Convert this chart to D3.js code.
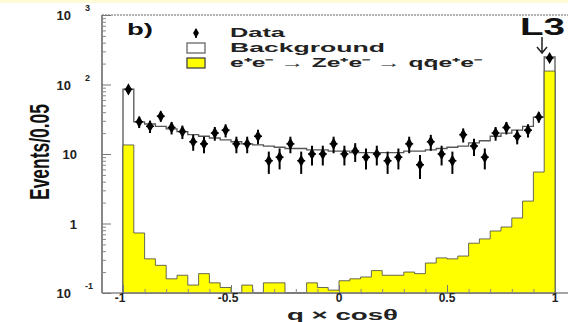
<!DOCTYPE html>
<html>
<head>
<meta charset="utf-8">
<script src="https://d3js.org/d3.v7.min.js"></script>
<style>
  body { margin: 0; background: #fff; }
  svg { display: block; font-family: "Liberation Sans", Arial, sans-serif; font-weight: bold; }
</style>
</head>
<body>
<script>
// lower edge of each 0.05 wide bin in q x cos(theta)
const binLow = d3.range(40).map(i => -1 + i * 0.05);

// open histogram (expectation), events per bin
const totalMC = [86, 29, 27, 25, 23, 21, 19, 18, 17, 16,
  15, 14, 13.5, 13, 12.5, 12, 12, 11.5, 11.5, 11,
  11, 10.5, 10.5, 10.5, 10.5, 10.5, 11, 11, 11.5, 12,
  12.5, 13, 14.5, 15.5, 18, 20, 22, 25, 34, 249];

// yellow histogram, e+e- -> Ze+e- -> qq e+e-
const signalMC = [13.5, 0.73, 0.31, 0.25, 0.16, 0.18, 0.13, 0.19, 0.14, 0.12,
  0, 0.13, 0, 0.14, 0.14, 0, 0, 0.14, 0.12, 0.11,
  0.15, 0.16, 0.17, 0.21, 0.18, 0.18, 0.2, 0.19, 0.27, 0.32,
  0.31, 0.34, 0.52, 0.6, 0.78, 0.89, 1.2, 2.1, 5.5, 156];

// data
const dataEvents = [85, 29, 25, 35, 24, 21, 15, 14, 20, 22,
  14, 14, 18, 8, 9, 14, 8, 10, 10, 14,
  10, 11, 9, 10, 8, 9, 14, 7, 15, 10,
  8, 19, 13, 9, 20, 24, 18, 22, 34, 240];

const xTicks = [-1, -0.5, 0, 0.5, 1];
const xTickText = ["-1", "-0.5", "0", "0.5", "1"];
const yMajor = [0.1, 1, 10, 100, 1000];
const yBase = ["10", "1", "10", "10", "10"];
const yExp = ["-1", "", "", "2", "3"];

const W = 568, H = 322;
const svg = d3.select("body").append("svg")
  .attr("width", W).attr("height", H);

// faint yellow strip at the very top
svg.append("rect").attr("x", 0).attr("y", 0).attr("width", W).attr("height", 3)
  .attr("fill", "#fffbd8");

let x = d3.scaleLinear().domain([-1, 1]).range([123, 555]);
let y = d3.scaleLog().domain([0.1, 1000]).range([293, 15]).clamp(true);
let frameLeft = 102, frameTop = 15, frameBottom = 293;

function steps(vals) {
  let pts = binLow.map((b, i) => [b, vals[i]]);
  pts.push([1, vals[vals.length - 1]]);
  return pts;
}

let area = d3.area()
  .curve(d3.curveStepAfter)
  .x(d => x(d[0]))
  .y0(y(0.1))
  .y1(d => d[1] > 0 ? y(d[1]) : y(0.1));

// open histogram
svg.append("path")
  .attr("d", area(steps(totalMC)))
  .attr("fill", "#fff")
  .attr("stroke", "#555")
  .attr("stroke-width", 1.3);

// yellow histogram
svg.append("path")
  .attr("d", area(steps(signalMC)))
  .attr("fill", "#ffff00")
  .attr("stroke", "#444")
  .attr("stroke-width", 0.8);

// frame: dotted top, grey left and bottom
svg.append("line").attr("x1", frameLeft).attr("x2", W).attr("y1", frameTop).attr("y2", frameTop)
  .attr("stroke", "#999").attr("stroke-width", 1.5).attr("stroke-dasharray", "2,1");
svg.append("line").attr("x1", frameLeft).attr("x2", frameLeft).attr("y1", frameTop).attr("y2", frameBottom)
  .attr("stroke", "#888").attr("stroke-width", 2);
svg.append("line").attr("x1", frameLeft).attr("x2", W).attr("y1", frameBottom).attr("y2", frameBottom)
  .attr("stroke", "#888").attr("stroke-width", 1.5);

// y ticks, pointing inwards
let yMinor = [];
for (let d = 0.1; d < 1000; d *= 10) {
  for (let k = 2; k <= 9; k++) yMinor.push(d * k);
}
svg.append("g").attr("transform", `translate(${frameLeft},0)`)
  .call(d3.axisRight(y).tickValues(yMinor).tickSize(4).tickFormat(""))
  .call(g => g.select(".domain").remove())
  .selectAll("line").attr("stroke", "#888");
svg.append("g").attr("transform", `translate(${frameLeft},0)`)
  .call(d3.axisRight(y).tickValues(yMajor).tickSize(9).tickFormat(""))
  .call(g => g.select(".domain").remove())
  .selectAll("line").attr("stroke", "#777");

// x ticks
svg.append("g").attr("transform", `translate(0,${frameBottom})`)
  .call(d3.axisTop(x).tickValues(d3.range(-10, 11).map(i => i / 10)).tickSize(4).tickFormat(""))
  .call(g => g.select(".domain").remove())
  .selectAll("line").attr("stroke", "#888");
svg.append("g").attr("transform", `translate(0,${frameBottom})`)
  .call(d3.axisTop(x).tickValues(xTicks).tickSize(8).tickFormat(""))
  .call(g => g.select(".domain").remove())
  .selectAll("line").attr("stroke", "#777");

// x tick labels
svg.append("g").selectAll("text")
  .data(xTicks)
  .join("text")
  .attr("x", d => x(d) + (d < 0 ? -3 : 0))
  .attr("y", 302)
  .attr("text-anchor", "middle")
  .attr("font-size", 12)
  .attr("fill", "#222")
  .text((d, i) => xTickText[i]);

// y tick labels, 10 with exponent
let yl = svg.append("g").selectAll("g")
  .data(yMajor)
  .join("g");
yl.append("text")
  .attr("x", (d, i) => yExp[i] ? 71 : 77)
  .attr("y", d => y(d) + 5)
  .attr("text-anchor", "end")
  .attr("font-size", 13)
  .attr("fill", "#222")
  .text((d, i) => yBase[i]);
yl.append("text")
  .attr("x", 85)
  .attr("y", d => y(d) - 4)
  .attr("font-size", 9)
  .attr("fill", "#222")
  .text((d, i) => yExp[i]);

// data points with error bars
let pts = svg.append("g").selectAll("g")
  .data(dataEvents)
  .join("g")
  .attr("transform", (d, i) => `translate(${x(binLow[i] + 0.025)},0)`);
pts.append("line")
  .attr("y1", d => y(d - Math.sqrt(d)))
  .attr("y2", d => y(d + Math.sqrt(d)))
  .attr("stroke", "#000").attr("stroke-width", 2);
pts.append("line")
  .attr("x1", -4).attr("x2", 4)
  .attr("y1", d => y(d)).attr("y2", d => y(d))
  .attr("stroke", "#000").attr("stroke-width", 1.5);
pts.append("path")
  .attr("transform", d => `translate(0,${y(d)})`)
  .attr("d", d3.symbol(d3.symbolDiamond, 42))
  .attr("fill", "#000");

// axis titles
svg.append("text")
  .attr("transform", "translate(49,152) rotate(-90)")
  .attr("text-anchor", "middle")
  .attr("font-size", 27)
  .attr("textLength", 96)
  .attr("lengthAdjust", "spacingAndGlyphs")
  .attr("fill", "#111")
  .text("Events/0.05");

svg.append("text")
  .attr("x", 287).attr("y", 320)
  .attr("font-size", 15)
  .attr("textLength", 111)
  .attr("lengthAdjust", "spacingAndGlyphs")
  .attr("fill", "#222")
  .text("q × cosθ");

// panel label
svg.append("text")
  .attr("x", 127).attr("y", 35)
  .attr("font-size", 16)
  .attr("textLength", 26)
  .attr("lengthAdjust", "spacingAndGlyphs")
  .attr("fill", "#111")
  .text("b)");

// legend
let legX = 196, txtX = 230;
svg.append("line").attr("x1", legX).attr("x2", legX).attr("y1", 29).attr("y2", 38)
  .attr("stroke", "#000").attr("stroke-width", 1.5);
svg.append("path").attr("transform", `translate(${legX},33)`)
  .attr("d", d3.symbol(d3.symbolDiamond, 30)).attr("fill", "#000");
svg.append("rect").attr("x", 187).attr("y", 43).attr("width", 18).attr("height", 10)
  .attr("fill", "#fff").attr("stroke", "#666").attr("stroke-width", 1.3);
svg.append("rect").attr("x", 187).attr("y", 58).attr("width", 18).attr("height", 10)
  .attr("fill", "#ffff00").attr("stroke", "#444").attr("stroke-width", 1.3);

let legText = [
  { t: "Data", y: 37, len: 55, size: 13 },
  { t: "Background", y: 52, len: 155, size: 13 },
  { t: "e⁺e⁻ → Ze⁺e⁻ → qq̄e⁺e⁻", y: 67, len: 252, size: 12 }
];
svg.append("g").selectAll("text")
  .data(legText)
  .join("text")
  .attr("x", txtX)
  .attr("y", d => d.y)
  .attr("font-size", d => d.size)
  .attr("textLength", d => d.len)
  .attr("lengthAdjust", "spacingAndGlyphs")
  .attr("fill", "#222")
  .text(d => d.t);

// L3 logo and arrow
svg.append("text")
  .attr("x", 520).attr("y", 35)
  .attr("font-size", 23)
  .attr("textLength", 45)
  .attr("lengthAdjust", "spacingAndGlyphs")
  .attr("fill", "#111")
  .text("L3");
svg.append("path")
  .attr("d", "M542,37 L542,53 M537,47 L542,53 L547,47")
  .attr("fill", "none").attr("stroke", "#222").attr("stroke-width", 1.5);
</script>
</body>
</html>
